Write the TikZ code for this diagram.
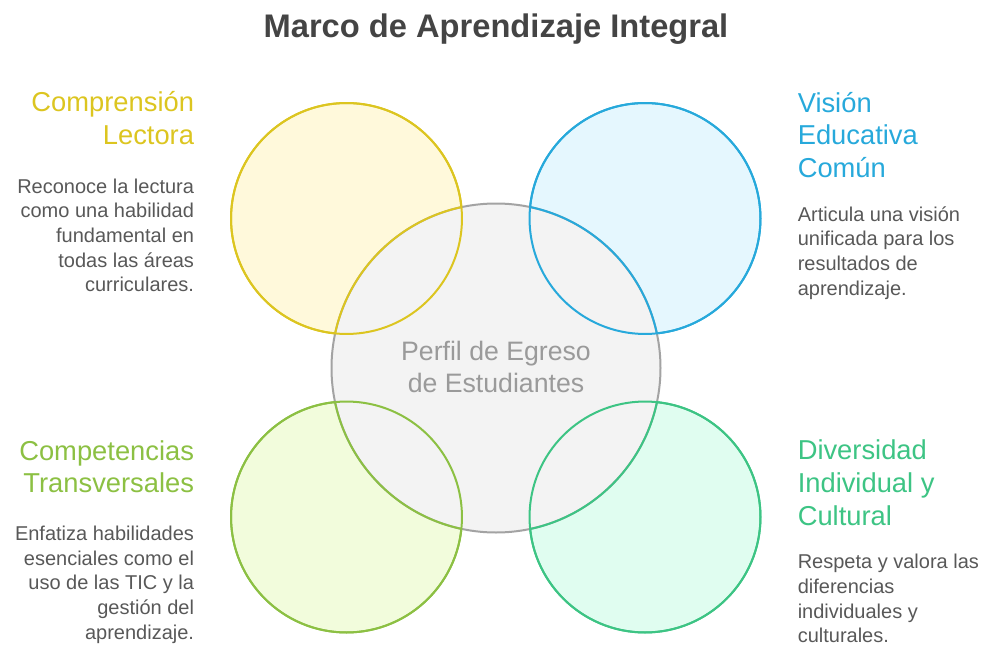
\documentclass[tikz,border=0pt]{standalone}
\usepackage{fontspec}
\setmainfont{Liberation Sans}
\definecolor{amarillo}{HTML}{DCC520}\definecolor{amarillofondo}{HTML}{FFF9DB}
\definecolor{azul}{HTML}{27A9DB}\definecolor{azulfondo}{HTML}{E5F7FE}
\definecolor{lima}{HTML}{8CC043}\definecolor{limafondo}{HTML}{F2FCDC}
\definecolor{verde}{HTML}{3DC484}\definecolor{verdefondo}{HTML}{E0FDF0}
\definecolor{gris}{HTML}{A3A3A3}\definecolor{grisfondo}{HTML}{F3F3F3}
\definecolor{grisletra}{HTML}{9A9A9A}\definecolor{texto}{HTML}{585858}\definecolor{oscuro}{HTML}{444444}
\begin{document}
\begin{tikzpicture}[x=0.75pt,y=-0.75pt,
  zona/.style={circle,draw,line width=1.5pt,minimum size=173.25pt,inner sep=0pt},
  centro/.style={circle,draw=gris,fill=grisfondo,line width=1.5pt,minimum size=246.75pt,inner sep=0pt},
  cabeza/.style={font=\fontsize{20.5}{24.4}\selectfont,inner sep=0pt},
  cuerpo/.style={font=\fontsize{15}{18.5}\selectfont,text=texto,inner sep=0pt}]
\useasboundingbox (0,0) rectangle (983,646);
\node[font=\fontsize{24.5}{28}\selectfont\bfseries,text=oscuro,anchor=base] (titulo) at (496,37.3) {Marco de Aprendizaje Integral};
% circulos
\node[zona,draw=amarillo,fill=amarillofondo] (lectura) at (346.5,218.5) {};
\node[zona,draw=azul,fill=azulfondo] (vision) at (645,218.5) {};
\node[zona,draw=lima,fill=limafondo] (competencias) at (346.5,517) {};
\node[zona,draw=verde,fill=verdefondo] (diversidad) at (645,517) {};
\node[centro] (perfil) at (496,368) {};
\foreach \n/\c in {lectura/amarillo,vision/azul,competencias/lima,diversidad/verde}{
  \draw[\c,line width=1.5pt] (\n.center) circle[radius=86.6pt];
  \begin{scope}
    \clip (\n.center) circle[radius=86.6pt];
    \draw[\c,line width=1.5pt] (perfil.center) circle[radius=123.4pt];
  \end{scope}}
\node[font=\fontsize{20}{24.5}\selectfont,text=grisletra,align=center,anchor=base] (perfiltxt) at (496,392.7) {Perfil de Egreso\\de Estudiantes};
% textos
\node[cabeza,text=amarillo,align=right,anchor=base east] (lecturatit) at (194.3,144.5) {Comprensión\\Lectora};
\node[cuerpo,align=right,anchor=base east] (lecturatxt) at (194.3,291.7) {Reconoce la lectura\\como una habilidad\\fundamental en\\todas las áreas\\curriculares.};
\node[cabeza,text=azul,align=left,anchor=base west] (visiontit) at (797.5,177.5) {Visión\\Educativa\\Común};
\node[cuerpo,align=left,anchor=base west] (visiontxt) at (797.5,295) {Articula una visión\\unificada para los\\resultados de\\aprendizaje.};
\node[cabeza,text=lima,align=right,anchor=base east] (competenciastit) at (194.3,492.7) {Competencias\\Transversales};
\node[cuerpo,align=right,anchor=base east] (competenciastxt) at (194.3,639.3) {Enfatiza habilidades\\esenciales como el\\uso de las TIC y la\\gestión del\\aprendizaje.};
\node[cabeza,text=verde,align=left,anchor=base west] (diversidadtit) at (797.5,525) {Diversidad\\Individual y\\Cultural};
\node[cuerpo,align=left,anchor=base west] (diversidadtxt) at (797.5,642.7) {Respeta y valora las\\diferencias\\individuales y\\culturales.};
\end{tikzpicture}
\end{document}
